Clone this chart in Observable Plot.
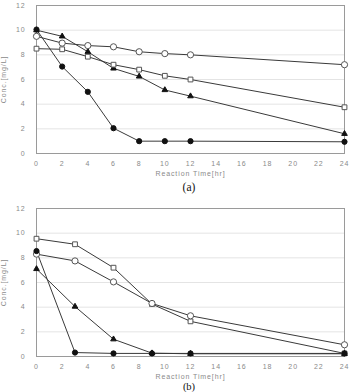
<!DOCTYPE html>
<html><head><meta charset="utf-8">
<script src="https://cdn.jsdelivr.net/npm/d3@7"></script>
<script src="https://cdn.jsdelivr.net/npm/@observablehq/plot@0.6"></script>
<style>
body{margin:0;background:#fff;width:350px;height:392px;overflow:hidden}
.cap{text-align:center;font-family:"Liberation Serif","Times New Roman",serif;color:#111;padding-left:28px}
#capA{height:14px;line-height:14px;padding-top:2px;font-size:11.5px}
#capB{height:10px;line-height:10px;font-size:10.5px}
svg{display:block}
</style></head><body>
<div id="a"></div><div class="cap" id="capA">(a)</div><div id="b"></div><div class="cap" id="capB">(b)</div>
<script>
// Panel (a)
const timeA = [0, 2, 4, 6, 8, 10, 12, 24];
const aFilledCircle = [10.05, 7.05, 5.0, 2.05, 1.0, 1.0, 1.0, 0.95];
const aFilledTriangle = [10.0, 9.5, 8.25, 6.9, 6.25, 5.15, 4.65, 1.6];
const aOpenSquare = [8.5, 8.45, 7.85, 7.2, 6.8, 6.3, 6.0, 3.75];
const aOpenCircle = [9.5, 8.95, 8.75, 8.65, 8.25, 8.1, 8.0, 7.2];
// Panel (b)
const timeB = [0, 3, 6, 9, 12, 24];
const bOpenSquare = [9.55, 9.1, 7.2, 4.25, 2.85, 0.25];
const bOpenCircle = [8.3, 7.75, 6.05, 4.3, 3.3, 0.95];
const bFilledTriangle = [7.1, 4.05, 1.4, 0.27, 0.22, 0.22];
const bFilledCircle = [8.55, 0.32, 0.25, 0.25, 0.25, 0.25];

const yTicks = [0, 2, 4, 6, 8, 10, 12];
const xTicks = [0, 2, 4, 6, 8, 10, 12, 14, 16, 18, 20, 22, 24];
const gridY = [2, 4, 6, 8, 10];

function rows(times, series) {
  const out = [];
  for (const s of series) times.forEach((t, i) => out.push({t, v: s.values[i], name: s.name}));
  return out;
}

function chart(times, series, height, marginTop, marginBottom) {
  const data = rows(times, series);
  const marks = [
    Plot.ruleY(gridY, {stroke: "#e4e4e4", strokeWidth: 1}),
    Plot.frame({stroke: "#9a9a9a", strokeWidth: 1}),
    Plot.axisY(yTicks, {tickSize: 0, tickPadding: 11, label: "Conc.[mg/L]", labelAnchor: "center", labelArrow: "none", labelOffset: 35, fill: "#8a8a8a"}),
    Plot.axisX(xTicks, {tickSize: 0, tickPadding: 8, label: "Reaction Time[hr]", labelAnchor: "center", labelArrow: "none", labelOffset: 22, fill: "#8a8a8a"}),
    Plot.line(data, {x: "t", y: "v", z: "name", stroke: "#3a3a3a", strokeWidth: 1})
  ];
  for (const s of series) {
    const d = data.filter(r => r.name === s.name);
    marks.push(Plot.dot(d, {x: "t", y: "v", symbol: () => s.symbol, r: s.r,
      fill: s.filled ? "#111" : "#fff", stroke: s.filled ? "#111" : "#555", strokeWidth: 1}));
  }
  return Plot.plot({
    width: 350, height, marginTop, marginBottom, marginLeft: 36, marginRight: 6,
    style: {fontFamily: "'Liberation Sans', Arial, sans-serif", fontSize: "7px", letterSpacing: "0.9px", background: "#fff"},
    x: {domain: [0, 24]},
    y: {domain: [0, 12]},
    symbol: {type: "identity"},
    marks
  });
}

document.getElementById("a").append(chart(timeA, [
  {name: "fc", values: aFilledCircle, symbol: "circle", filled: true, r: 2.6},
  {name: "ft", values: aFilledTriangle, symbol: "triangle", filled: true, r: 2.1},
  {name: "os", values: aOpenSquare, symbol: "square", filled: false, r: 2.7},
  {name: "oc", values: aOpenCircle, symbol: "circle", filled: false, r: 3.1}
], 178, 5, 25));

document.getElementById("b").append(chart(timeB, [
  {name: "os", values: bOpenSquare, symbol: "square", filled: false, r: 2.7},
  {name: "oc", values: bOpenCircle, symbol: "circle", filled: false, r: 3.1},
  {name: "ft", values: bFilledTriangle, symbol: "triangle", filled: true, r: 2.1},
  {name: "fc", values: bFilledCircle, symbol: "circle", filled: true, r: 2.6}
], 188, 14, 26));
</script></body></html>
